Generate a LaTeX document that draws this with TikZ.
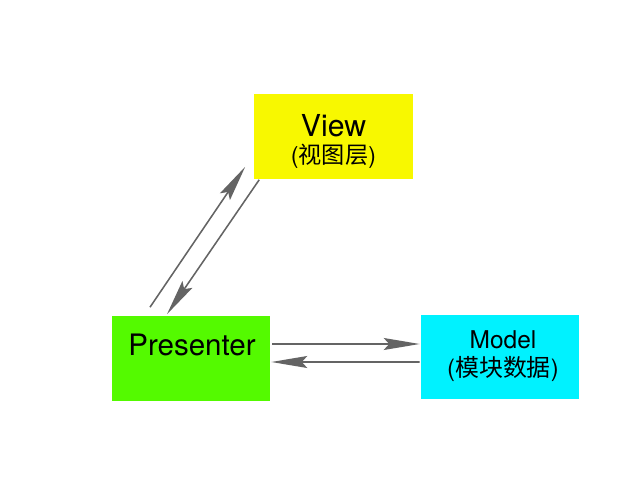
\documentclass[tikz,border=0pt]{standalone}
\usepackage{fontspec}
\setmainfont{TeX Gyre Heros}
\newfontfamily\cjk{Noto Sans CJK SC}
\usetikzlibrary{positioning}
\usetikzlibrary{arrows.meta}
\usetikzlibrary{calc}

\definecolor{viewyellow}{RGB}{248,248,0}
\definecolor{presgreen}{RGB}{84,250,0}
\definecolor{modelcyan}{RGB}{0,242,255}
\definecolor{arrowgray}{RGB}{100,100,100}

\tikzset{
    block/.style={inner sep=0pt, minimum width=3.95cm, minimum height=2.1cm},
    blocktext/.style={align=center, inner sep=0pt},
    flow/.style={draw=arrowgray, line width=1.1pt,
        -{Stealth[length=0.9cm, width=0.3cm, inset=0.14cm]}},
}

\begin{document}
\begin{tikzpicture}[x=0.025cm, y=-0.025cm]
        \useasboundingbox (0,0) rectangle (640,500);

        \node[block, fill=viewyellow] (view) at (333.5,136.5) {};
        \node[block, fill=presgreen] (pres) at (191,358.5) {};
        \node[block, fill=modelcyan] (model) at (500,357) {};

        \node[blocktext] (viewtext) at ($(view.center)+(0,5)$)
            {\fontsize{21.5}{26}\selectfont View\\[4.5pt]\fontsize{16.5}{20}\selectfont(\cjk 视图层\normalfont)};
        \node[blocktext] (prestext) at ($(pres.center)+(1,-13.5)$)
            {\fontsize{21}{25}\selectfont Presenter};
        \node[blocktext] (modeltext) at ($(model.center)+(3,-1)$)
            {\fontsize{17.4}{22}\selectfont Model\\[4pt]\fontsize{17}{20}\selectfont(\cjk 模块数据\normalfont)};

        \draw [flow] ($(pres.north)+(-41,-9)$) -- ($(view.south west)+(-9,-12)$);
        \draw [flow] ($(view.south west)+(5,1)$) -- ($(pres.north)+(-24,-2)$);
        \draw [flow] ($(pres.east)+(2,-14.5)$) -- ($(model.west)+(-1,-13)$);
        \draw [flow] ($(model.west)+(-1,5)$) -- ($(pres.east)+(1,3.5)$);
    \end{tikzpicture}
\end{document}
